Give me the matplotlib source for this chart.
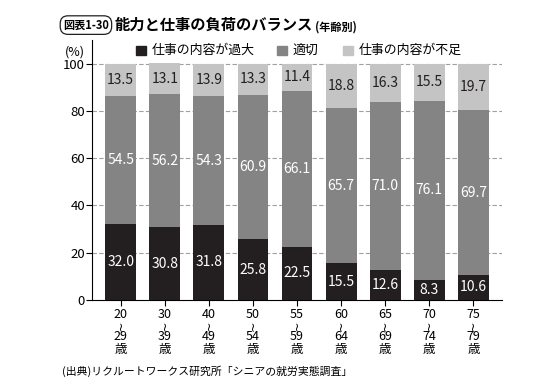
import matplotlib
matplotlib.use("Agg")
import matplotlib.pyplot as plt
from matplotlib.patches import Rectangle
from matplotlib.transforms import blended_transform_factory, offset_copy

plt.rcParams["font.family"] = ["Noto Sans CJK JP", "DejaVu Sans"]

AGE_FROM = ["20", "30", "40", "50", "55", "60", "65", "70", "75"]
AGE_TO = ["29", "39", "49", "54", "59", "64", "69", "74", "79"]
OVER = [32.0, 30.8, 31.8, 25.8, 22.5, 15.5, 12.6, 8.3, 10.6]
PROPER = [54.5, 56.2, 54.3, 60.9, 66.1, 65.7, 71.0, 76.1, 69.7]
UNDER = [13.5, 13.1, 13.9, 13.3, 11.4, 18.8, 16.3, 15.5, 19.7]
SERIES = ["仕事の内容が過大", "適切", "仕事の内容が不足"]
COLORS = ["#231f20", "#848484", "#c4c4c4"]
TEXT_COLORS = ["white", "white", "#231f20"]

fig = plt.figure(figsize=(5.4, 3.86), dpi=100)
ax = fig.add_axes([0.1704, 0.2228, 0.7593, 0.6736])

x = list(range(len(AGE_FROM)))
bottom = [0.0] * len(x)
for vals, color, tcol in zip([OVER, PROPER, UNDER], COLORS, TEXT_COLORS):
    ax.bar(x, vals, bottom=bottom, width=0.70, color=color, zorder=3)
    for xi, b, v in zip(x, bottom, vals):
        ax.text(xi, b + v / 2, f"{v:.1f}", ha="center", va="center",
                color=tcol, fontsize=10, zorder=4)
    bottom = [b + v for b, v in zip(bottom, vals)]

ax.set_xlim(-0.65, 8.65)
ax.set_ylim(0, 110)
ax.set_yticks([0, 20, 40, 60, 80, 100])
for y in [20, 40, 60, 80, 100]:
    ax.axhline(y, color="#a0a0a0", linestyle=(0, (4, 2)), linewidth=0.8, zorder=1)
ax.set_xticks(x)
ax.set_xticklabels([""] * len(x))
ax.tick_params(axis="y", labelsize=9.5, length=4, width=0.8, pad=1)
ax.tick_params(axis="x", length=4, width=0.8)
ax.spines["top"].set_visible(False)
ax.spines["right"].set_visible(False)
ax.text(-0.017, 0.955, "(%)", transform=ax.transAxes, ha="right", va="center", fontsize=9)

# stacked age labels under each tick
trans = blended_transform_factory(ax.transData, ax.transAxes)
for xi, a, b in zip(x, AGE_FROM, AGE_TO):
    ax.text(xi, 0, a, transform=offset_copy(trans, fig, y=-10.8, units="points"),
            ha="center", va="center", fontsize=9)
    ax.text(xi, 0, "~", transform=offset_copy(trans, fig, y=-18.7, units="points"),
            ha="center", va="center", fontsize=9, rotation=90, family="DejaVu Sans")
    ax.text(xi, 0, b, transform=offset_copy(trans, fig, y=-26.6, units="points"),
            ha="center", va="center", fontsize=9)
    ax.text(xi, 0, "歳", transform=offset_copy(trans, fig, y=-36, units="points"),
            ha="center", va="center", fontsize=9)

# legend
for sx, label, color in zip([136, 277, 343], SERIES, COLORS):
    fig.patches.append(Rectangle((sx / 540, 1 - 55 / 386), 10 / 540, 9.5 / 386,
                                 transform=fig.transFigure, color=color, figure=fig))
    fig.text((sx + 16) / 540, 1 - 50.5 / 386, label, ha="left", va="center", fontsize=9.3)

# title
fig.text(63 / 540, 0.935, "図表1-30", ha="left", va="center", fontsize=8, fontweight="bold",
         bbox=dict(boxstyle="round,pad=0.25,rounding_size=0.7", fc="white", ec="#231f20", lw=0.9))
fig.text(115 / 540, 0.935, "能力と仕事の負荷のバランス", ha="left", va="center",
         fontsize=11, fontweight="bold")
fig.text(315 / 540, 0.930, "(年齢別)", ha="left", va="center", fontsize=8, fontweight="bold")

fig.text(62 / 540, 0.039, "(出典)リクルートワークス研究所「シニアの就労実態調査」",
         ha="left", va="center", fontsize=7.8)

fig.savefig("out.png", dpi=100)
